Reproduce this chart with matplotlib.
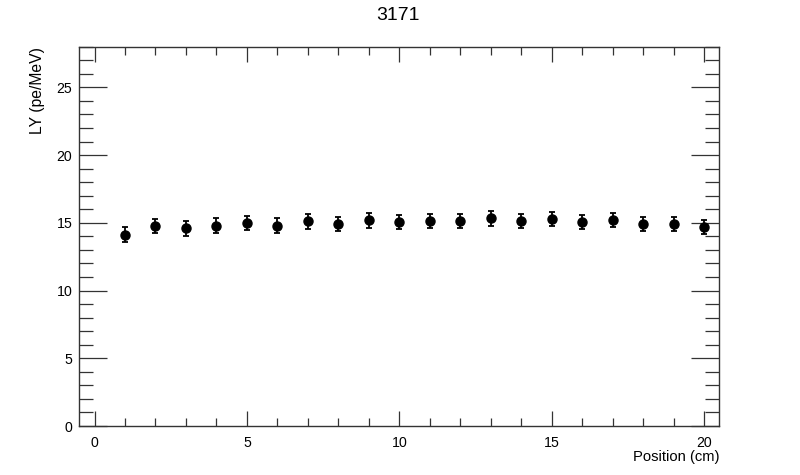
import matplotlib
matplotlib.use("Agg")
import matplotlib.pyplot as plt
from matplotlib.ticker import MultipleLocator

plt.rcParams['font.family'] = ['Liberation Sans', 'DejaVu Sans']

position = [1, 2, 3, 4, 5, 6, 7, 8, 9, 10, 11, 12, 13, 14, 15, 16, 17, 18, 19, 20]
light_yield = [14.13, 14.75, 14.58, 14.80, 14.98, 14.80, 15.10, 14.93, 15.18, 15.05,
               15.15, 15.15, 15.35, 15.15, 15.28, 15.08, 15.22, 14.88, 14.88, 14.68]
ly_error = [0.53, 0.52, 0.52, 0.52, 0.53, 0.52, 0.53, 0.52, 0.53, 0.53,
            0.53, 0.53, 0.55, 0.53, 0.53, 0.53, 0.53, 0.52, 0.52, 0.52]
title = "3171"
xlabel = "Position (cm)"
ylabel = "LY (pe/MeV)"

fig = plt.figure(figsize=(8, 4.75), dpi=100)
ax = fig.add_axes([79.3/800, 49/475, 640/800, 379.3/475])

ax.errorbar(position, light_yield, yerr=ly_error, fmt='o', color='black',
            markersize=6.5, elinewidth=1.3, capsize=2.2, capthick=1.3)

ax.set_xlim(-0.5, 20.5)
ax.set_ylim(0, 28)
ax.xaxis.set_major_locator(MultipleLocator(5))
ax.xaxis.set_minor_locator(MultipleLocator(1))
ax.yaxis.set_major_locator(MultipleLocator(5))
ax.yaxis.set_minor_locator(MultipleLocator(1))

ax.tick_params(axis='both', which='both', direction='in', top=True, right=True,
               color='#333333', labelsize=10.2, width=0.9)
ax.tick_params(axis='x', which='major', length=11, pad=7)
ax.tick_params(axis='x', which='minor', length=5.5)
ax.tick_params(axis='y', which='major', length=20, pad=5)
ax.tick_params(axis='y', which='minor', length=10)
for s in ax.spines.values():
    s.set_linewidth(1.0)
    s.set_color('#333333')

fig.text(398/800, 1 - 16/475, title, ha='center', va='center', fontsize=14)
ax.set_xlabel(xlabel, fontsize=10.6, ha='right', va='center')
ax.xaxis.set_label_coords(1.0, -(457.5 - 426) / 379.3)
ax.set_ylabel(ylabel, fontsize=11.3, ha='right', va='bottom')
ax.yaxis.set_label_coords((45 - 79.3) / 640, 1.0)

fig.savefig("out.png", dpi=100)
